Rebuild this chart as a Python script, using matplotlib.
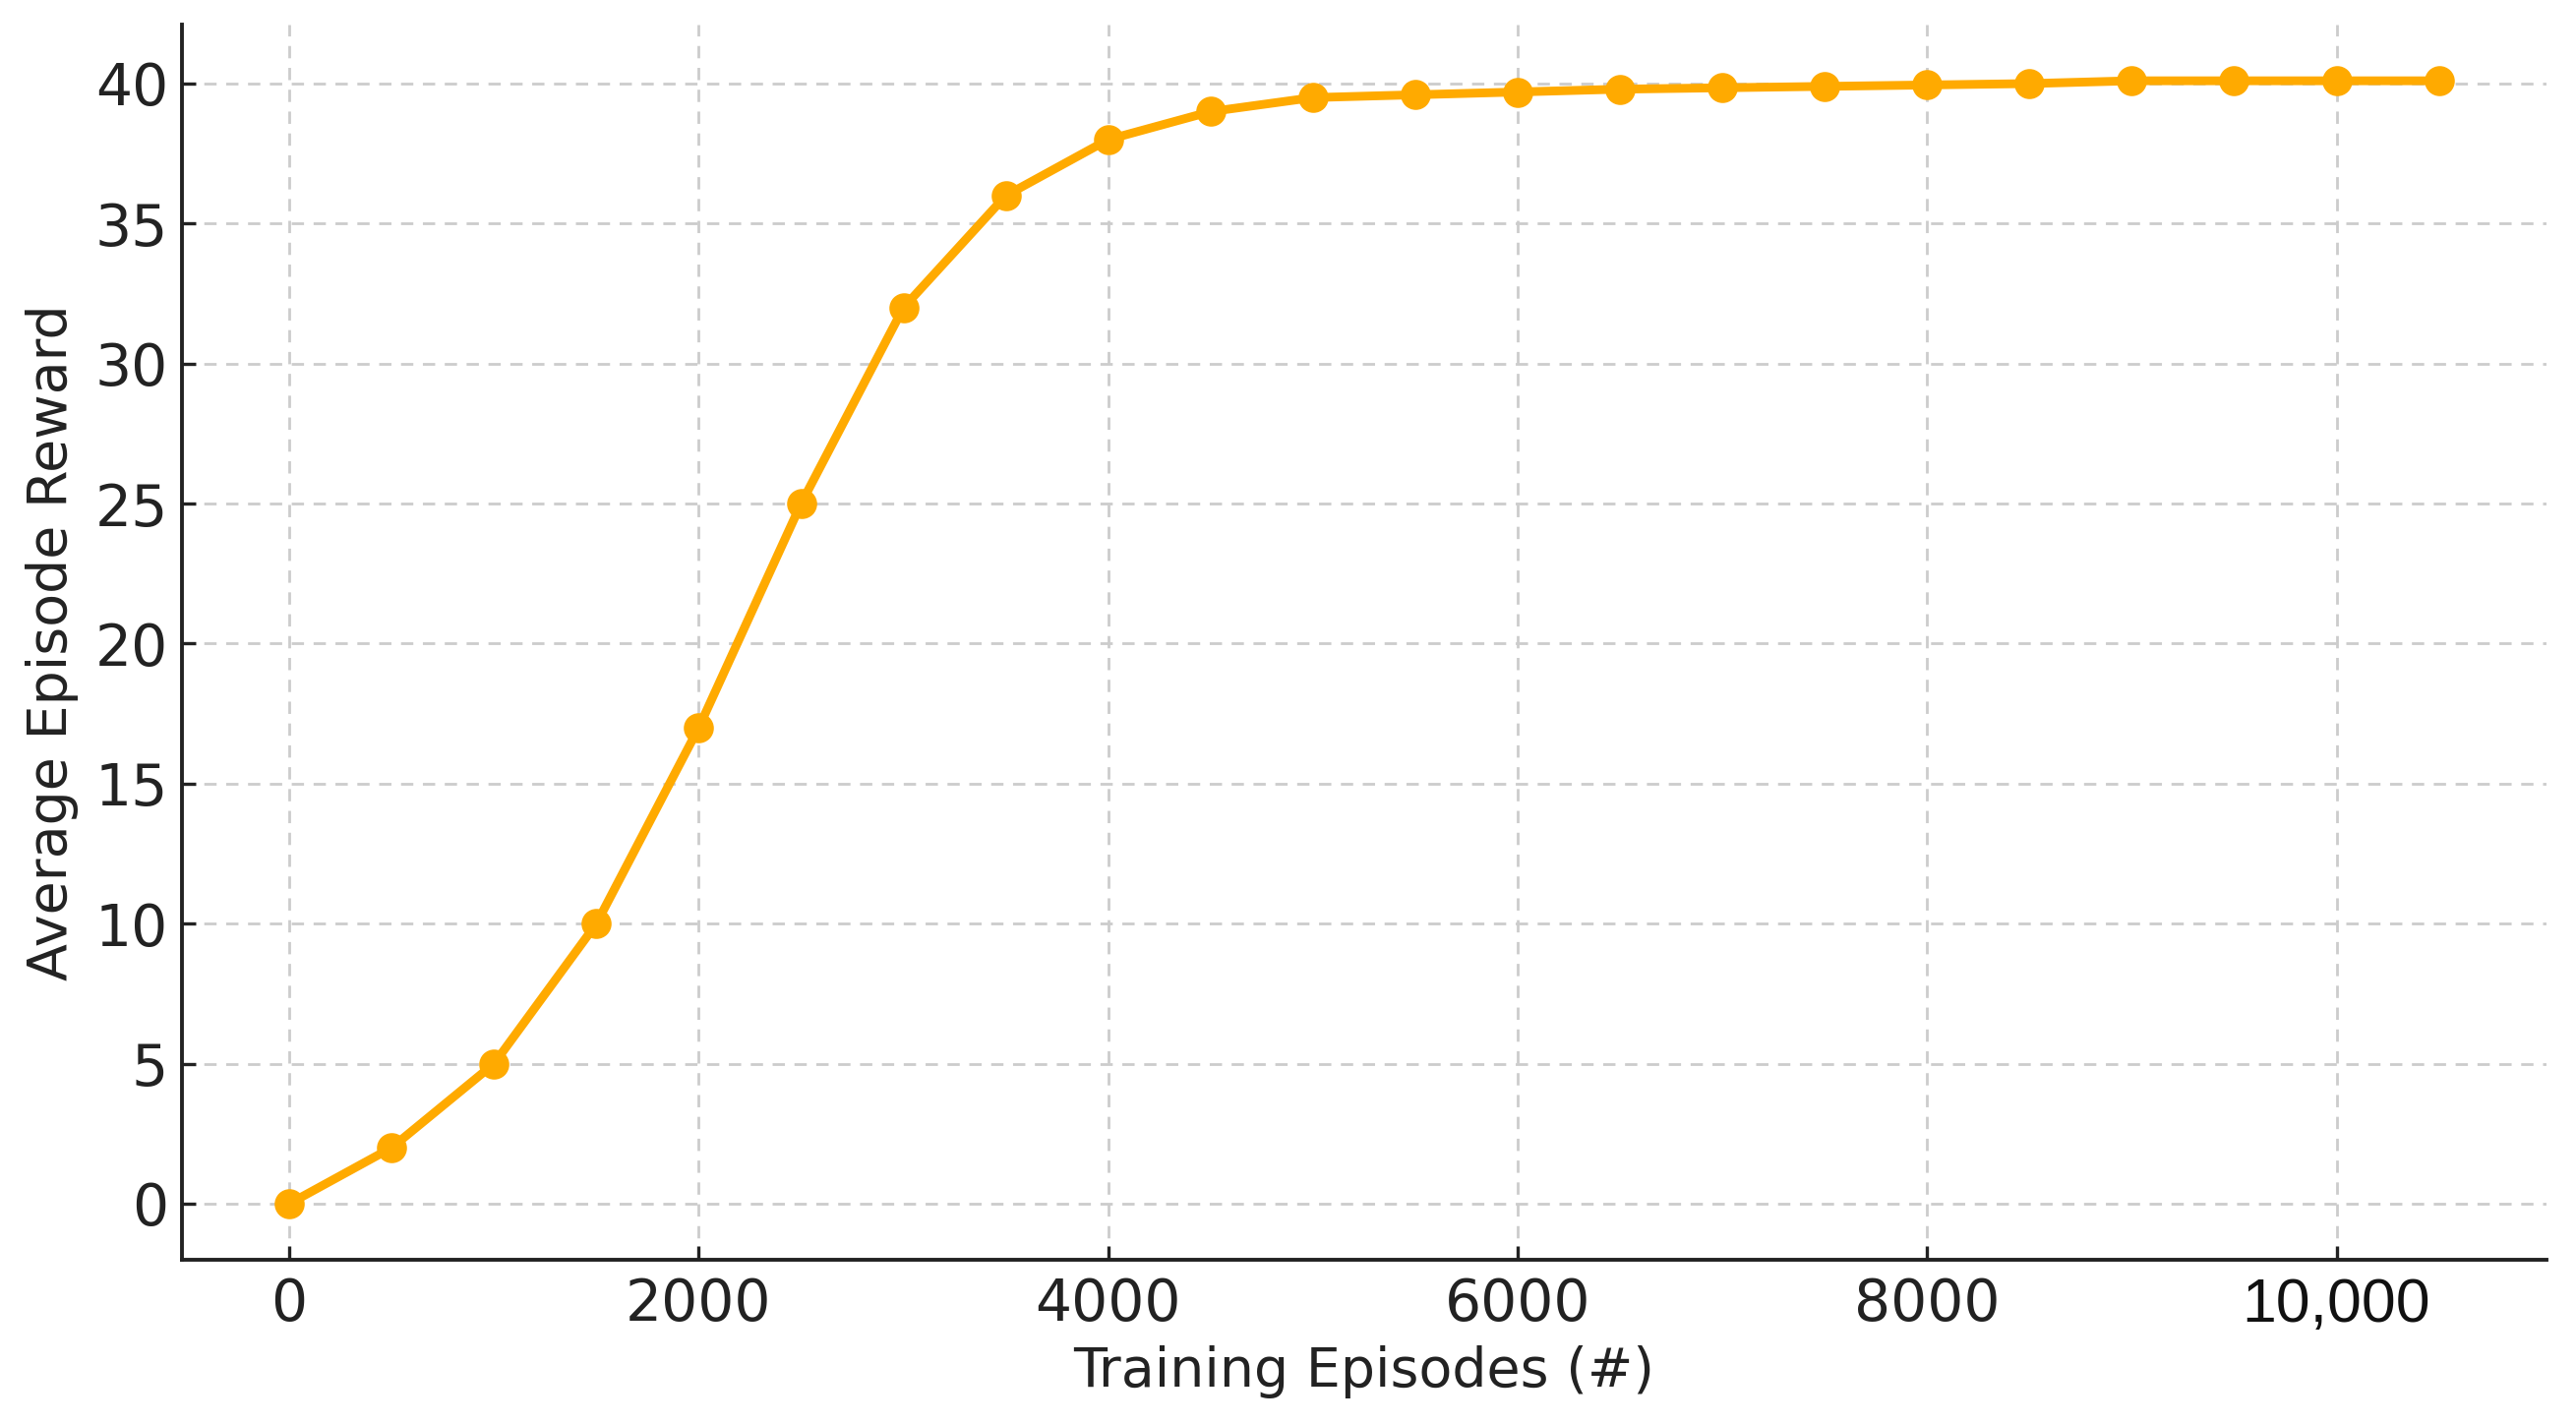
import matplotlib
matplotlib.use("Agg")
import matplotlib.pyplot as plt
from matplotlib.ticker import FuncFormatter

episodes = [0, 500, 1000, 1500, 2000, 2500, 3000, 3500, 4000, 4500, 5000,
            5500, 6000, 6500, 7000, 7500, 8000, 8500, 9000, 9500, 10000, 10500]
rewards = [0, 2, 5, 10, 17, 25, 32, 36, 38, 39, 39.5,
           39.6, 39.7, 39.8, 39.85, 39.9, 39.95, 40.0, 40.1, 40.1, 40.1, 40.1]
x_ticks = [0, 2000, 4000, 6000, 8000, 10000]
y_ticks = [0, 5, 10, 15, 20, 25, 30, 35, 40]

DPI = 200
fig = plt.figure(figsize=(2619 / DPI, 1448 / DPI), dpi=DPI)
ax = fig.add_axes([0.0706, 0.1153, 0.9885 - 0.0706, 0.9827 - 0.1153])

ax.plot(episodes, rewards, color="#FFAA00", linewidth=3.2, marker="o",
        markersize=10, zorder=3)

ax.set_xticks(x_ticks)
ax.set_yticks(y_ticks)
ax.xaxis.set_major_formatter(FuncFormatter(
    lambda v, p: f"{int(v):,}" if v >= 10000 else f"{int(v)}"))

ax.grid(True, linestyle=(0, (4.5, 3.5)), color="#cccccc", linewidth=1.0)
ax.set_axisbelow(True)

for s in ["top", "right"]:
    ax.spines[s].set_visible(False)
for s in ["left", "bottom"]:
    ax.spines[s].set_linewidth(1.4)
    ax.spines[s].set_color("#222222")

ax.tick_params(axis="both", direction="in", length=5, width=1.2,
               labelsize=21, colors="#222222")
ax.tick_params(axis="y", pad=5)
ax.tick_params(axis="x", pad=6)
ax.set_xlabel("Training Episodes (#)", fontsize=20, color="#222222", labelpad=4)
ax.set_ylabel("Average Episode Reward", fontsize=20, color="#222222", labelpad=6)

fig.canvas.draw()
for lbl in ax.get_xticklabels():
    if lbl.get_text() == "10,000":
        lbl.set_fontfamily(["Liberation Sans", "DejaVu Sans"])
        lbl.set_fontsize(22.5)
        lbl.set_color("#111111")

fig.savefig("out.png", dpi=DPI)
